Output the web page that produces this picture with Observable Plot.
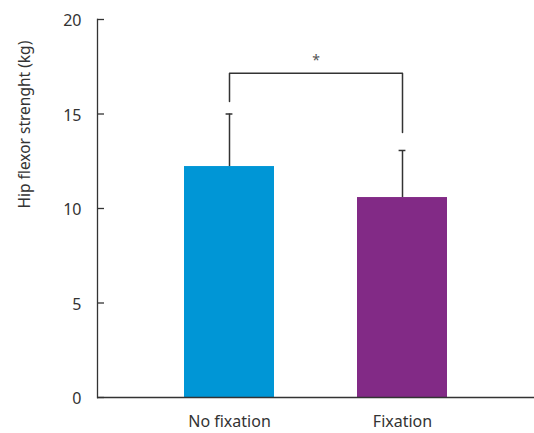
<!DOCTYPE html>
<html><head><meta charset="utf-8">
<script src="https://cdn.jsdelivr.net/npm/d3@7"></script>
<script src="https://cdn.jsdelivr.net/npm/@observablehq/plot@0.6"></script>
<style>body{margin:0;background:#fff;}</style>
</head><body><div id="chart"></div>
<script>
const groups = ["No fixation", "Fixation"];
const means = [12.22, 10.58];
const upper = [15.0, 13.07];
const colors = ["#0096d6", "#822a86"];
const yTicks = [0, 5, 10, 15, 20];
const bracketGroups = ["No fixation", "No fixation", "Fixation", "Fixation"];
const bracketY = [15.66, 17.16, 17.16, 14.02];
const sigLabel = "*";
const sigY = 18.04;
const yLabel = "Hip flexor strenght (kg)";

const data = groups.map((g, i) => ({group: g, mean: means[i], upper: upper[i]}));
const bracket = bracketGroups.map((g, i) => ({group: g, y: bracketY[i]}));
const ink = "#333";

const W = 534, ML = 97, MR = 0;
const pIn = 0.48, pOut = 0.5;
const step = (W - ML - MR) / (groups.length - pIn + 2 * pOut);
const bw = step * (1 - pIn);
const capHalf = 3.5;

const chart = Plot.plot({
  width: W, height: 433,
  marginLeft: ML, marginRight: MR, marginTop: 19, marginBottom: 36,
  x: {domain: groups, paddingInner: pIn, paddingOuter: pOut},
  y: {domain: [0, 20]},
  color: {domain: groups, range: colors},
  style: {fontFamily: "'Noto Sans', sans-serif", fontSize: "16px", color: ink, background: "#fff"},
  marks: [
    Plot.barY(data, {x: "group", y: "mean", fill: "group"}),
    Plot.ruleX(data, {x: "group", y1: "mean", y2: "upper", stroke: ink, strokeWidth: 1.5}),
    Plot.tickY(data, {x: "group", y: "upper", stroke: ink, strokeWidth: 1.5, insetLeft: bw / 2 - capHalf, insetRight: bw / 2 - capHalf}),
    Plot.line(bracket, {x: "group", y: "y", stroke: ink, strokeWidth: 1.5}),
    Plot.text([sigLabel], {x: () => groups[0], y: () => sigY, text: d => d, dx: step / 2, dy: 4, fontSize: 14, fill: "#555"}),
    Plot.frame({anchor: "left", stroke: ink, strokeWidth: 1.3}),
    Plot.ruleY([0], {stroke: ink, strokeWidth: 1.3}),
    Plot.axisY({ticks: yTicks, tickSize: 7, dx: 7, tickFormat: () => "", label: null, stroke: ink, strokeWidth: 1.3}),
    Plot.axisY({ticks: yTicks, tickSize: 0, tickPadding: 16, dy: 1.5, label: null, fill: ink, fontSize: 16}),
    Plot.axisX({tickSize: 0, tickPadding: 18, label: null, fill: ink, fontSize: 16}),
    Plot.text([yLabel], {frameAnchor: "left", dx: -72, rotate: -90, text: d => d, fontSize: 15.5, fill: ink})
  ]
});
document.getElementById("chart").appendChild(chart);
</script>
</body></html>
